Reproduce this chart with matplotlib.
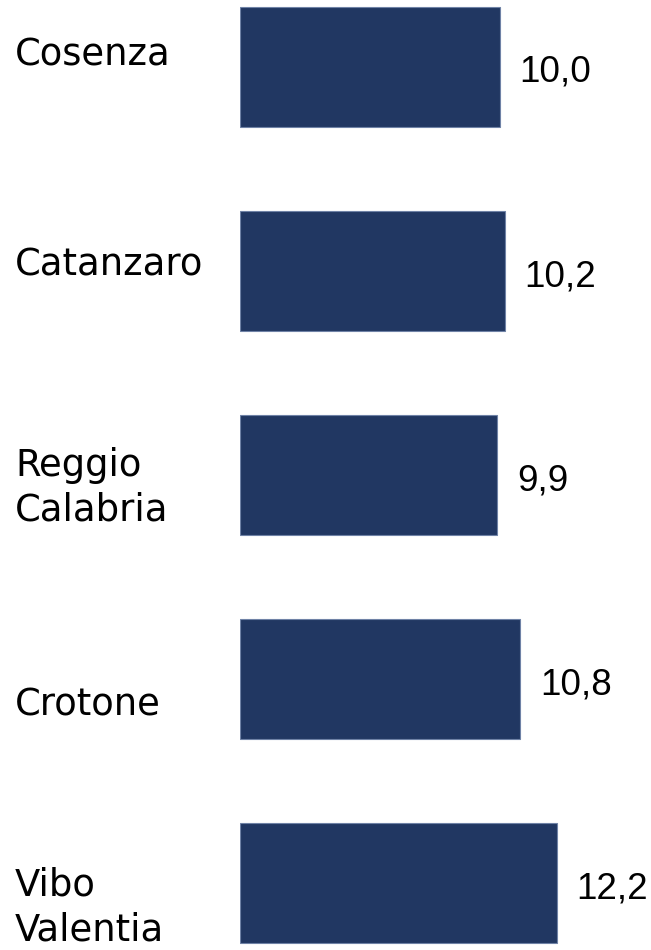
import matplotlib
matplotlib.use("Agg")
import matplotlib.pyplot as plt
from matplotlib import transforms

# ---- data ----
categories = ["Cosenza", "Catanzaro", "Reggio\nCalabria", "Crotone", "Vibo\nValentia"]
values = [10.0, 10.2, 9.9, 10.8, 12.2]
value_labels = ["10,0", "10,2", "9,9", "10,8", "12,2"]

# ---- layout (pixel offsets of the last-line baseline of category labels from bar centres) ----
cat_offsets_px = [-2, 4, 45, 36, 57]

W, H, DPI = 651, 950, 100
fig = plt.figure(figsize=(W / DPI, H / DPI), dpi=DPI)
fig.patch.set_facecolor("white")

left_px = 240
ax = fig.add_axes([left_px / W, 0, (W - left_px) / W, 1])
px_per_unit = 25.95
ax.set_xlim(0, (W - left_px) / px_per_unit)
pitch = 204.1
top_center = 67
ax.set_ylim((H - top_center) / pitch, -top_center / pitch)

ypos = list(range(len(categories)))
bar_h = 120 / pitch
ax.barh(ypos, values, height=bar_h, color="#213762", edgecolor="#6f82a6",
        linewidth=0.8)

ax.axis("off")

fs = 26.6
# value labels
for y, v, lab in zip(ypos, values, value_labels):
    ax.annotate(lab, xy=(v, y), xytext=(20 * 72 / DPI, -15 * 72 / DPI),
                textcoords="offset points", ha="left", va="baseline",
                fontsize=fs, family="Liberation Sans", color="black")

# category labels
blend = transforms.blended_transform_factory(fig.transFigure, ax.transData)
for y, cat, off in zip(ypos, categories, cat_offsets_px):
    tr = transforms.offset_copy(blend, fig=fig, x=0, y=-off * 72 / DPI, units="points")
    fig.text(15 / W, y, cat, transform=tr, ha="left", va="baseline",
             fontsize=fs, family="DejaVu Sans", color="black", linespacing=1.26)

fig.savefig("out.png", dpi=DPI, facecolor="white")
